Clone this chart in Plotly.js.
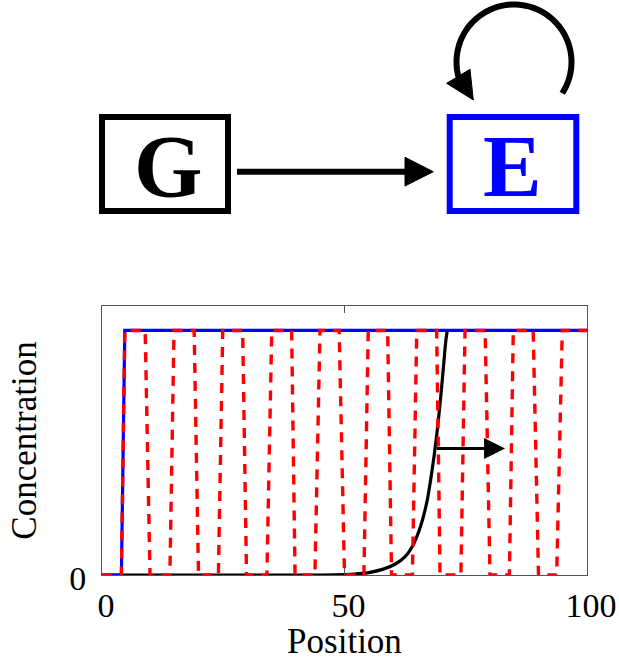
<!DOCTYPE html>
<html>
<head>
<meta charset="utf-8">
<script src="https://cdn.plot.ly/plotly-3.0.1.min.js"></script>
<style>html,body{margin:0;padding:0;background:#fff;}#chart{width:619px;height:661px;}</style>
</head>
<body>
<div id="chart"></div>
<script>
// ---- data ----
const xTickVals = [0, 50, 100];
const xTickText = ['0', '50', '100'];
const yTickVals = [0];
const yTickText = ['0'];

// E profile (blue, solid)
const blueX = [0, 4.0, 4.7, 100];
const blueY = [0, 0, 1, 1];

// G profile (black, solid) - travelling front
const blackX = [0, 40, 48, 52, 55, 58, 60.5, 62.5, 64.2, 65.7, 67.0, 68.0, 69.0, 69.8, 70.4, 70.9, 71.2];
const blackY = [0, 0, 0.001, 0.004, 0.01, 0.024, 0.045, 0.075, 0.125, 0.2, 0.3, 0.42, 0.57, 0.72, 0.85, 0.96, 1.0];

// red dashed zig-zag
const redX = [0, 4.0, 4.7, 8.9, 9.9, 14.0, 14.85, 19.0, 19.9, 24.0, 24.9, 29.0, 29.8, 34.0, 35.0,
              39.1, 39.8, 43.9, 44.95, 48.9, 50.0, 54.0, 54.9, 58.9, 59.7, 64.0, 64.9, 69.0, 69.7,
              74.0, 74.85, 79.0, 80.0, 84.0, 84.8, 88.9, 90.0, 93.75, 94.9, 100];
const redY = [0, 0, 1, 1, 0, 0, 1, 1, 0, 0, 1, 1, 0, 0, 1,
              1, 0, 0, 1, 1, 0, 0, 1, 1, 0, 0, 1, 1, 0,
              0, 1, 1, 0, 0, 1, 1, 0, 0, 1, 1];

// arrow showing front motion
const arrowFrom = [68.7, 0.517];
const arrowTo = [83.1, 0.517];

// network diagram labels
const nodeLabels = ['G', 'E'];
const nodeColors = ['#000000', '#0000ff'];

// ---- figure ----
const serif = '"Liberation Serif", "Times New Roman", serif';

const traces = [
  {x: blackX, y: blackY, mode: 'lines', line: {color: '#000', width: 3.2, shape: 'spline', smoothing: 0.8}, hoverinfo: 'skip'},
  {x: blueX, y: blueY, mode: 'lines', line: {color: '#0000ff', width: 3.2}, hoverinfo: 'skip'},
  {x: redX, y: redY, mode: 'lines', line: {color: '#ff0000', width: 3.4, dash: '10px,8px'}, hoverinfo: 'skip'},
  {x: [], y: [], xaxis: 'x2', yaxis: 'y2', mode: 'lines', hoverinfo: 'skip'}
];

// diagram geometry in pixel space (x2/y2 span whole figure)
const arcPts = [];
const cx = 514, cy = 62, r = 57.5;
const a0 = 33 * Math.PI / 180, a1 = -195 * Math.PI / 180;
for (let i = 0; i <= 60; i++) {
  const a = a0 + (a1 - a0) * i / 60;
  arcPts.push((i ? 'L' : 'M') + (cx + r * Math.cos(a)).toFixed(2) + ',' + (cy + r * Math.sin(a)).toFixed(2));
}

const shapes = [
  {type: 'rect', xref: 'x2', yref: 'y2', x0: 102, x1: 228, y0: 117, y1: 211, line: {color: nodeColors[0], width: 6}},
  {type: 'rect', xref: 'x2', yref: 'y2', x0: 449.7, x1: 576.3, y0: 117, y1: 211, line: {color: nodeColors[1], width: 6}},
  {type: 'line', xref: 'x2', yref: 'y2', x0: 237, x1: 410, y0: 171.7, y1: 171.7, line: {color: '#000', width: 6}},
  {type: 'path', xref: 'x2', yref: 'y2', path: 'M405,157.3 L433.3,171.7 L405,186 Z', fillcolor: '#000', line: {color: '#000', width: 1}},
  {type: 'path', xref: 'x2', yref: 'y2', path: arcPts.join(' '), line: {color: '#000', width: 6}},
  {type: 'path', xref: 'x2', yref: 'y2', path: 'M446.7,83.3 L473.3,100 L470,69.3 Z', fillcolor: '#000', line: {color: '#000', width: 1}}
];

const annotations = [
  {xref: 'x2', yref: 'y2', x: 167.5, y: 166, text: '<b>' + nodeLabels[0] + '</b>', showarrow: false,
   font: {family: serif, size: 88, color: nodeColors[0]}, xanchor: 'center', yanchor: 'middle'},
  {xref: 'x2', yref: 'y2', x: 512.5, y: 166, text: '<b>' + nodeLabels[1] + '</b>', showarrow: false,
   font: {family: serif, size: 88, color: nodeColors[1]}, xanchor: 'center', yanchor: 'middle'},
  {xref: 'x', yref: 'y', x: arrowTo[0], y: arrowTo[1], ax: arrowFrom[0], ay: arrowFrom[1], axref: 'x', ayref: 'y',
   text: '', showarrow: true, arrowhead: 2, arrowsize: 1.4, arrowwidth: 3, arrowcolor: '#000', standoff: 0, startstandoff: 0}
];

const layout = {
  width: 619, height: 661,
  margin: {l: 0, r: 0, t: 0, b: 0, pad: 0},
  paper_bgcolor: '#fff', plot_bgcolor: 'rgba(0,0,0,0)',
  showlegend: false,
  xaxis: {
    domain: [102 / 619, 587 / 619], range: [0, 100], anchor: 'y',
    tickvals: xTickVals, ticktext: xTickText, ticks: 'inside', ticklen: 7, tickwidth: 1, tickcolor: '#555',
    showline: true, linecolor: '#555', linewidth: 1, mirror: 'ticks', showgrid: false, zeroline: false,
    tickfont: {family: serif, size: 34, color: '#000'}, ticklabelshift: 4, automargin: false,
    title: {text: 'Position', font: {family: serif, size: 35, color: '#000'}, standoff: 0}
  },
  yaxis: {
    domain: [1 - 575 / 661, 1 - 306 / 661], range: [0, 1.1], anchor: 'x',
    tickvals: yTickVals, ticktext: yTickText, ticks: '', showline: true, linecolor: '#555', linewidth: 1,
    mirror: true, showgrid: false, zeroline: false, automargin: false,
    tickfont: {family: serif, size: 34, color: '#000'}, ticklabelstandoff: 8, ticklabelshift: 3,
    title: {text: 'Concentration', font: {family: serif, size: 35, color: '#000'}, standoff: 21}
  },
  xaxis2: {domain: [0, 1], range: [0, 619], anchor: 'y2', visible: false, fixedrange: true},
  yaxis2: {domain: [0, 1], range: [661, 0], anchor: 'x2', visible: false, fixedrange: true},
  shapes: shapes,
  annotations: annotations
};

Plotly.newPlot('chart', traces, layout, {displayModeBar: false, staticPlot: true});
</script>
</body>
</html>
